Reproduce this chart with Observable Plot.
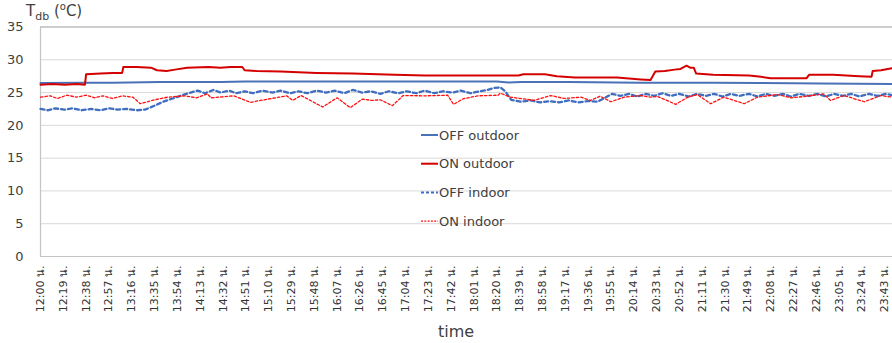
<!DOCTYPE html>
<html><head><meta charset="utf-8">
<script src="https://cdn.jsdelivr.net/npm/d3@7"></script>
<script src="https://cdn.jsdelivr.net/npm/@observablehq/plot@0.6"></script>
<style>
body{margin:0;background:#fff;}
#wrap{position:relative;width:892px;height:343px;font-family:"DejaVu Sans","Noto Sans",sans-serif;color:#404040;}
#ytitle{position:absolute;left:26px;top:1px;font-size:15px;white-space:nowrap;}
#ytitle sub{font-size:11px;vertical-align:-4px;}
#ytitle sup{font-size:10px;vertical-align:6px;}
#xtitle{position:absolute;left:438px;top:322px;font-size:16px;}
</style></head>
<body>
<div id="wrap"><div id="chart"></div>
<div id="ytitle">T<sub>db</sub> (<sup>o</sup>C)</div>
<div id="xtitle">time</div></div>
<script>
// x tick labels
const tickLabels = ["12:00 น.","12:19 น.","12:38 น.","12:57 น.","13:16 น.","13:35 น.","13:54 น.","14:13 น.","14:32 น.","14:51 น.","15:10 น.","15:29 น.","15:48 น.","16:07 น.","16:26 น.","16:45 น.","17:04 น.","17:23 น.","17:42 น.","18:01 น.","18:20 น.","18:39 น.","18:58 น.","19:17 น.","19:36 น.","19:55 น.","20:14 น.","20:33 น.","20:52 น.","21:11 น.","21:30 น.","21:49 น.","22:08 น.","22:27 น.","22:46 น.","23:05 น.","23:24 น.","23:43 น."];
const yTicks = [0,5,10,15,20,25,30,35];
const seriesNames = ["OFF outdoor","ON outdoor","OFF indoor","ON indoor"];

// minutes after 12:00 / temperature (°C)
const offOutdoorT = [0,35,60,100,150,170,250,300,380,390,400,440,500,560,600,650,680,709];
const offOutdoorV = [26.45,26.5,26.5,26.6,26.6,26.7,26.7,26.7,26.7,26.55,26.6,26.6,26.5,26.5,26.45,26.4,26.35,26.3];

const onOutdoorT = [0,10,20,30,37,38,50,60,68,69,80,92,97,105,112,122,140,150,158,168,170,180,200,230,260,295,320,360,398,402,420,430,445,480,500,508,512,520,528,533,538,541,544,546,560,590,600,608,638,640,660,682,692,693,700,709];
const onOutdoorV = [26.2,26.3,26.2,26.3,26.2,27.8,27.9,28.0,28.0,28.9,28.9,28.8,28.4,28.3,28.5,28.8,28.9,28.8,28.9,28.9,28.4,28.3,28.2,28.0,27.9,27.7,27.6,27.6,27.6,27.8,27.8,27.5,27.3,27.3,27.0,26.9,28.2,28.3,28.5,28.6,29.1,28.8,28.8,27.9,27.7,27.6,27.4,27.2,27.2,27.7,27.7,27.5,27.4,28.3,28.4,28.7];

const offIndoorT = [0,6,12,20,27,34,42,50,57,64,72,80,87,95,102,110,118,125,131,137,144,150,157,163,170,177,185,193,200,208,215,222,230,238,245,253,260,268,275,283,290,298,305,313,320,328,335,343,350,358,366,372,378,383,387,392,400,408,416,424,432,440,448,456,464,470,476,483,490,497,504,511,518,525,532,540,547,554,561,568,575,582,590,597,604,611,618,625,632,640,647,654,661,668,675,682,690,697,704,709];
const offIndoorV = [22.5,22.3,22.6,22.4,22.6,22.3,22.5,22.3,22.6,22.4,22.5,22.3,22.4,23.0,23.6,24.1,24.6,25.0,25.3,24.9,25.4,25.0,25.3,24.9,25.2,24.9,25.3,25.0,25.3,24.9,25.2,24.9,25.3,25.0,25.3,24.9,25.4,25.0,25.2,24.8,25.2,24.9,25.2,24.9,25.3,24.9,25.2,25.0,25.3,24.9,25.2,25.4,25.7,25.8,25.2,23.9,23.6,23.8,23.5,23.7,23.5,23.8,23.5,23.7,23.6,24.2,24.8,24.5,24.8,24.4,24.8,24.5,24.9,24.5,24.8,24.4,24.8,24.5,24.8,24.4,24.8,24.5,24.8,24.4,24.8,24.5,24.8,24.4,24.8,24.5,24.8,24.4,24.8,24.5,24.8,24.4,24.8,24.5,24.8,24.6];

const onIndoorT = [0,8,14,22,30,38,45,52,60,68,77,83,95,106,120,130,139,142,161,175,183,205,210,217,235,247,258,268,276,283,293,302,320,339,344,352,364,381,383,391,402,411,425,436,450,458,466,475,486,500,508,514,529,539,547,558,569,586,597,614,625,636,652,658,669,686,700,709];
const onIndoorV = [24.3,24.5,24.1,24.6,24.3,24.6,24.2,24.5,24.1,24.5,24.3,23.3,23.9,24.3,24.5,24.2,24.8,24.2,24.5,23.5,23.8,24.5,23.8,24.55,22.8,24.2,22.7,24.0,23.8,23.9,23.0,24.55,24.5,24.6,23.2,24.05,24.5,24.6,24.9,24.3,24.05,23.8,24.55,24.1,24.3,23.8,24.45,23.6,24.3,24.55,24.3,24.4,23.2,24.3,24.7,23.3,24.3,23.3,24.3,24.7,24.2,24.4,24.8,23.8,24.55,23.6,24.55,24.3];

const colors = ["#4a72b6","#d40000","#3f6dbf","#ff1010"];
const widths = [2,2,2.3,1.3];
const dashes = [null,null,"4,3","2.5,2"];

const toRows = (T, V) => T.map((t, i) => ({t, v: V[i]}));
const series = [toRows(offOutdoorT, offOutdoorV), toRows(onOutdoorT, onOutdoorV), toRows(offIndoorT, offIndoorV), toRows(onIndoorT, onIndoorV)];
const tickMinutes = tickLabels.map(s => { const [h, m] = s.split(" ")[0].split(":").map(Number); return (h - 12) * 60 + m; });

const chart = Plot.plot({
  width: 892, height: 343,
  marginLeft: 40, marginRight: 0, marginTop: 26.5, marginBottom: 87,
  style: {fontFamily: '"DejaVu Sans","Noto Sans",sans-serif', color: "#404040", background: "#fff"},
  x: {type: "linear", domain: [0, 709.5]},
  y: {domain: [0, 35]},
  marks: [
    Plot.ruleY(yTicks.filter(d => d > 0 && d < 35), {stroke: "#d9d9d9", strokeWidth: 1}),
    Plot.ruleY([35], {stroke: "#bcbcbc", strokeWidth: 1.6}),
    Plot.ruleY([0], {stroke: "#c4c4c4", strokeWidth: 1.2}),
    Plot.ruleX([0], {stroke: "#c4c4c4", strokeWidth: 1.2}),
    Plot.axisX({ticks: tickMinutes, tickFormat: d => tickLabels[tickMinutes.indexOf(d)], tickRotate: -90, tickSize: 0, tickPadding: 9, fontSize: 11, label: null, fill: "#333"}),
    Plot.axisY({ticks: yTicks, tickSize: 0, tickPadding: 17, fontSize: 13, label: null, fill: "#404040"}),
    ...series.map((rows, i) => Plot.line(rows, {x: "t", y: "v", stroke: colors[i], strokeWidth: widths[i], strokeDasharray: dashes[i], strokeLinejoin: "round"}))
  ]
});
document.getElementById("chart").appendChild(chart);

// legend inside the plot
const svg = d3.select(chart);
const lg = svg.append("g").attr("font-size", 13).attr("fill", "#404040").attr("text-anchor", "start")
  .attr("font-family", '"DejaVu Sans","Noto Sans",sans-serif');
seriesNames.forEach((name, i) => {
  const y = 135 + i * 28.7;
  lg.append("line").attr("x1", 421).attr("x2", 438).attr("y1", y).attr("y2", y)
    .attr("stroke", colors[i]).attr("stroke-width", i === 3 ? 1.2 : 2)
    .attr("stroke-dasharray", dashes[i] ? (i === 2 ? "3,2" : "2,1.3") : null);
  lg.append("text").attr("x", 439).attr("y", y).attr("dy", "0.35em").attr("text-anchor", "start").text(name);
});
</script>
</body></html>
